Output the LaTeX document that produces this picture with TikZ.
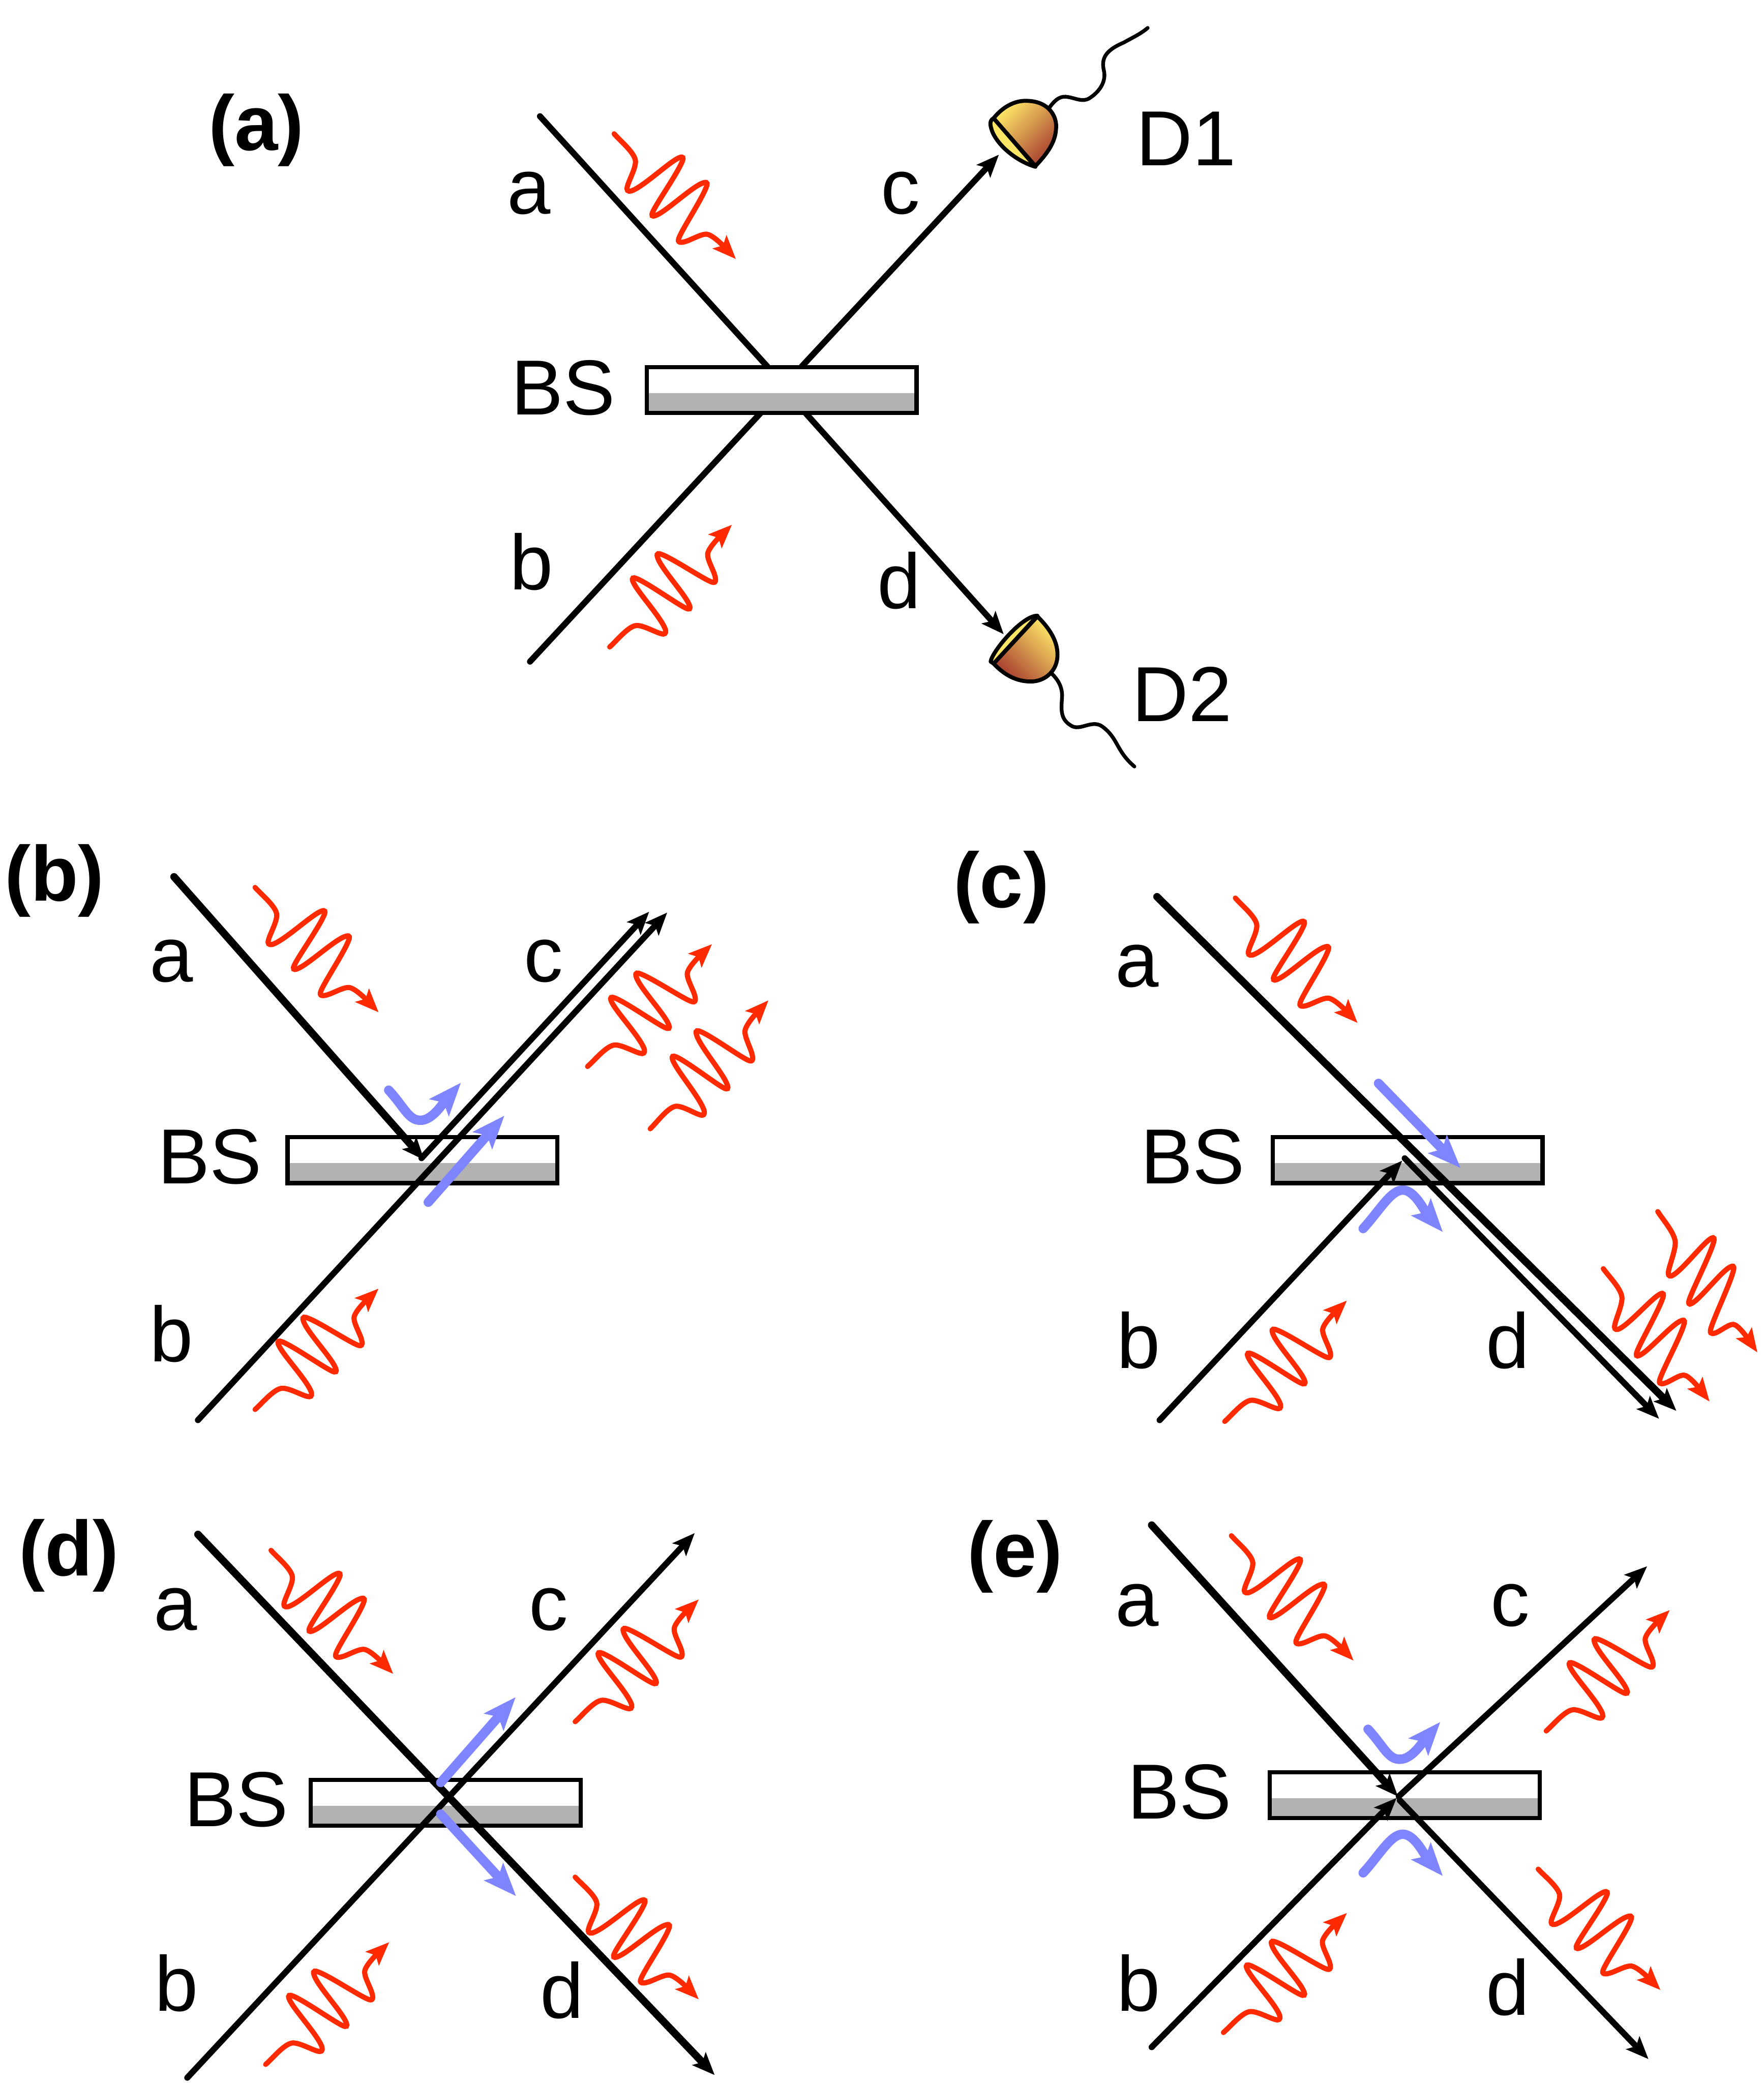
\documentclass[tikz,border=0pt]{standalone}
\usepackage{xcolor}
\usepackage{fontspec}
\setmainfont{Liberation Sans}
\usetikzlibrary{positioning, calc, arrows.meta}

\definecolor{photonred}{RGB}{255,42,0}
\definecolor{beamblue}{RGB}{127,132,255}
\definecolor{plategray}{RGB}{178,178,178}
\definecolor{detyellow}{RGB}{253,230,102}
\definecolor{detmiddle}{RGB}{232,190,98}
\definecolor{detbrown}{RGB}{168,64,48}

\newcommand{\wavepath}{\draw [wave] (0,0) .. controls (4.8,5.5) and (16.1,14.6) .. (16.1,20.8) .. controls (16.1,26.9) and (9.6,37.3) .. (9.7,41.2) .. controls (9.7,43) and (11.8,43.4) .. (14.4,42.1) .. controls (24,37.8) and (42.3,20.3) .. (49.3,17.7) .. controls (51.9,16.7) and (52.3,18.1) .. (51.4,20.3) .. controls (47.5,30.3) and (29.2,55.6) .. (28.5,60) .. controls (28.2,62.2) and (30.1,61.7) .. (32.7,60.4) .. controls (41.4,56.1) and (60.2,38.2) .. (67.6,36.5) .. controls (70.6,35.6) and (70.2,37.8) .. (69.3,39.9) .. controls (65.8,49.5) and (48.8,74.8) .. (48.4,79.2) .. controls (48,81.8) and (51.4,81.4) .. (55.4,79.9) .. controls (61.5,77.4) and (65.8,75) .. (69.3,75) .. controls (73.7,75) and (82.4,84) .. (91.6,93.6);}
% wave packet from (#1,#2), tip at (#3,#4)
\newcommand{\photon}[4]{
	\begin{scope}[shift={(#1,#2)}, xscale={(#3-#1)/91.6}, yscale={(#4-#2)/93.6}]
		\wavepath
	\end{scope}
}
% the same one turned upwards
\newcommand{\photonup}[4]{
	\begin{scope}[shift={(#1,#2)}, rotate=90, xscale={(#2-#4)/91.6}, yscale={(#3-#1)/93.6}]
		\wavepath
	\end{scope}
}

\begin{document}
\begin{tikzpicture}[x=0.01cm, y=-0.01cm]
	\tikzstyle{plate}=[draw=black, line width=0.9pt, fill=white, minimum width=2.03cm, minimum height=0.345cm, inner sep=0pt, path picture={\fill [plategray] (path picture bounding box.south west) rectangle ($(path picture bounding box.south east)+(0,-15)$);}]
	\tikzstyle{ray}=[line width=1.3pt, line cap=round, black]
	\tikzstyle{thickray}=[line width=1.6pt, line cap=round, black]
	\tikzstyle{tip}=[-{Stealth[length=4.8pt, width=3.9pt, inset=1pt]}]
	\tikzstyle{wave}=[line width=1.1pt, line cap=round, photonred, -{Stealth[length=5pt, width=4pt, inset=1pt]}]
	\tikzstyle{beam}=[line width=2pt, line cap=round, beamblue, -{Stealth[length=7pt, width=5.4pt, inset=1.4pt]}]
	\tikzstyle{wire}=[line width=0.8pt, line cap=round, black]
	\tikzstyle{det}=[line width=0.85pt, draw=black, line join=round]
	\tikzstyle{txt}=[anchor=base, inner sep=0pt, font=\fontsize{16.7}{20}\selectfont]
	\tikzstyle{tag}=[anchor=base, inner sep=0pt, font=\fontsize{16.7}{20}\selectfont\bfseries]
	
	\useasboundingbox (0,0) rectangle (1328,1568);
	
	% (a)
	\coordinate (a0) at (406.5,87.5);
	\coordinate (a1) at (577.5,275.7);
	\coordinate (c1) at (603.7,275.7);
	\coordinate (c0) at (752,116.4);
	\coordinate (b0) at (399,498);
	\coordinate (b1) at (572.5,311);
	\coordinate (d1) at (606.5,311);
	\coordinate (d0) at (755.6,477.4);
	
	\draw [ray] (a0) -- (a1);
	\draw [ray, tip] (c1) -- (c0);
	\draw [ray] (b0) -- (b1);
	\draw [ray, tip] (d1) -- (d0);
	\node (bsa) at (588.5,293.5) [plate] {};
	
	% detector D1
	\shade [top color=detyellow, middle color=detmiddle, bottom color=detbrown, shading angle=45, det] (748,89) .. controls (756,79) and (766,75) .. (775,76) .. controls (790,77) and (796,88) .. (795,97) .. controls (794.5,108) and (787,117) .. (779.5,125) -- cycle;
	\filldraw [fill=detyellow, det] (748,89) .. controls (744,91) and (746,96) .. (747,99) .. controls (752,111) and (767,122) .. (779.5,125.5) -- cycle;
	\draw [wire] (790,81) .. controls (795,74) and (799,72) .. (804,73) .. controls (810,74) and (815,77) .. (820,74) .. controls (828,69) and (833,61) .. (831,53) .. controls (829,44) and (832,38) .. (846,32) .. controls (853,28) and (858,26) .. (864,21);
	% detector D2
	\shade [top color=detyellow, middle color=detmiddle, bottom color=detbrown, shading angle=-45, det] (781,464) .. controls (790,473) and (797,483) .. (796,495) .. controls (795,506) and (786,513) .. (776,513) .. controls (765,513) and (756,508) .. (748,499.5) -- cycle;
	\filldraw [fill=detyellow, det] (781,463.5) .. controls (770,463) and (747,490) .. (745.8,498) -- (748,499.5) -- cycle;
	\draw [wire] (791.7,507) .. controls (797,512) and (800,518) .. (799.5,525) .. controls (799,534) and (798,541) .. (806,546) .. controls (813,551) and (822,541) .. (830,547) .. controls (842,556) and (840,565) .. (854,577);
	
	\node (tagA) at (193,113) [tag] {(a)};
	\node (txtAa) at (398,161) [txt] {a};
	\node (txtAc) at (678,161) [txt] {c};
	\node (txtAb) at (400,444) [txt] {b};
	\node (txtAd) at (677,458) [txt] {d};
	\node (txtAbs) at (424,312) [txt] {BS};
	\node (txtD1) at (893,124.5) [txt] {D1};
	\node (txtD2) at (890,543) [txt] {D2};
	
	\photon{462.3}{100.7}{554}{195}
	\photonup{459}{487}{551}{395}
	
	% (b)
	\node (bsb) at (318,873.3) [plate] {};
	\coordinate (ba) at (131,660);
	\coordinate (bm) at (319.4,873.2);
	\coordinate (bn) at (317.3,871.8);
	\coordinate (bc) at (488.7,686.3);
	\coordinate (bb) at (149,1069);
	\coordinate (bd) at (502.3,686.9);
	\draw [thickray, tip] (ba) -- (bm);
	\draw [ray, tip] (bn) -- (bc);
	\draw [ray, tip] (bb) -- (bd);
	
	\coordinate (bu0) at (292.6,820.6);
	\coordinate (bu1) at (316.5,843.3);
	\coordinate (bu2) at (347,815);
	\coordinate (bv0) at (322.4,905);
	\coordinate (bv1) at (379.7,839.8);
	\draw [beam] (bu0) .. controls +(12,13) and +(-9,0) .. (bu1) .. controls +(9,0) and +(-14,16) .. (bu2);
	\draw [beam] (bv0) -- (bv1);
	
	\node (tagB) at (41,678) [tag] {(b)};
	\node (txtBa) at (129,739) [txt] {a};
	\node (txtBc) at (409,739) [txt] {c};
	\node (txtBb) at (129,1025) [txt] {b};
	\node (txtBbs) at (158,891) [txt] {BS};
	
	\photon{192}{668}{285}{762}
	\photonup{192}{1061}{285}{970}
	\photonup{442.3}{802.8}{536}{710.7}
	\photonup{489.5}{849.7}{578.5}{753}
	
	% (c)
	\node (bsc) at (1059.7,873.3) [plate] {};
	\coordinate (ca) at (871,675);
	\coordinate (cd) at (1262,1062);
	\coordinate (cb) at (873,1069);
	\coordinate (cm) at (1055.6,873.7);
	\coordinate (cn) at (1057.5,871.9);
	\coordinate (ce) at (1249,1068);
	\draw [thickray, tip] (ca) -- (cd);
	\draw [ray, tip] (cb) -- (cm);
	\draw [ray, tip] (cn) -- (ce);
	
	\coordinate (cu0) at (1037.8,815.5);
	\coordinate (cu1) at (1099.6,879.2);
	\coordinate (cv0) at (1026.2,924.8);
	\coordinate (cv1) at (1056,895.8);
	\coordinate (cv2) at (1086.2,927.4);
	\draw [beam] (cu0) -- (cu1);
	\draw [beam] (cv0) .. controls +(12,-13) and +(-9,0) .. (cv1) .. controls +(9,0) and +(-14,-16) .. (cv2);
	
	\node (tagC) at (754,683) [tag] {(c)};
	\node (txtCa) at (856,743) [txt] {a};
	\node (txtCb) at (857,1030) [txt] {b};
	\node (txtCd) at (1135,1030) [txt] {d};
	\node (txtCbs) at (898,891) [txt] {BS};
	
	\photon{930}{676}{1022}{770}
	\photonup{922}{1070}{1014}{979}
	\photon{1248}{912}{1323}{1018}
	\photon{1207}{955}{1287}{1055}
	
	% (d)
	\node (bsd) at (335.5,1357) [plate] {};
	\coordinate (da) at (149,1155);
	\coordinate (dd) at (538,1562);
	\coordinate (db) at (141,1564);
	\coordinate (dc) at (523,1154);
	\draw [thickray, tip] (da) -- (dd);
	\draw [ray, tip] (db) -- (dc);
	
	\coordinate (du0) at (331.8,1341.8);
	\coordinate (du1) at (388.2,1277.5);
	\coordinate (dv0) at (331.8,1365.6);
	\coordinate (dv1) at (388.5,1427.3);
	\draw [beam] (du0) -- (du1);
	\draw [beam] (dv0) -- (dv1);
	
	\node (tagD) at (52,1186) [tag] {(d)};
	\node (txtDa) at (132,1227) [txt] {a};
	\node (txtDc) at (413,1227) [txt] {c};
	\node (txtDb) at (133,1514) [txt] {b};
	\node (txtDd) at (423,1519) [txt] {d};
	\node (txtDbs) at (178,1375) [txt] {BS};
	
	\photon{204}{1167}{296}{1260}
	\photonup{200}{1554}{293}{1462}
	\photonup{433}{1296}{526}{1204}
	\photon{433}{1413}{526}{1505}
	
	% (e)
	\node (bse) at (1057.5,1351.3) [plate] {};
	\coordinate (ea) at (867,1148);
	\coordinate (em) at (1052.4,1352.3);
	\coordinate (en) at (1053,1352.2);
	\coordinate (ec) at (1240,1179);
	\coordinate (eb) at (867,1541);
	\coordinate (eo) at (1051.4,1353.4);
	\coordinate (ep) at (1053.8,1355.2);
	\coordinate (ed) at (1241,1550);
	\draw [thickray, tip] (ea) -- (em);
	\draw [ray, tip] (en) -- (ec);
	\draw [ray, tip] (eb) -- (eo);
	\draw [ray, tip] (ep) -- (ed);
	
	\coordinate (eu0) at (1029.9,1301.7);
	\coordinate (eu1) at (1053.8,1324.3);
	\coordinate (eu2) at (1084.3,1296.2);
	\coordinate (ev0) at (1026.2,1409.8);
	\coordinate (ev1) at (1056,1380.7);
	\coordinate (ev2) at (1086.2,1412.2);
	\draw [beam] (eu0) .. controls +(12,13) and +(-9,0) .. (eu1) .. controls +(9,0) and +(-14,16) .. (eu2);
	\draw [beam] (ev0) .. controls +(12,-13) and +(-9,0) .. (ev1) .. controls +(9,0) and +(-14,-16) .. (ev2);
	
	\node (tagE) at (764,1187) [tag] {(e)};
	\node (txtEa) at (856,1224) [txt] {a};
	\node (txtEc) at (1137,1224) [txt] {c};
	\node (txtEb) at (857,1514) [txt] {b};
	\node (txtEd) at (1135,1517) [txt] {d};
	\node (txtEbs) at (888,1369) [txt] {BS};
	
	\photon{927}{1156}{1019}{1250}
	\photonup{921}{1530}{1014}{1440}
	\photonup{1164}{1303}{1257}{1212}
	\photon{1158}{1407}{1250}{1498}
\end{tikzpicture}
\end{document}
